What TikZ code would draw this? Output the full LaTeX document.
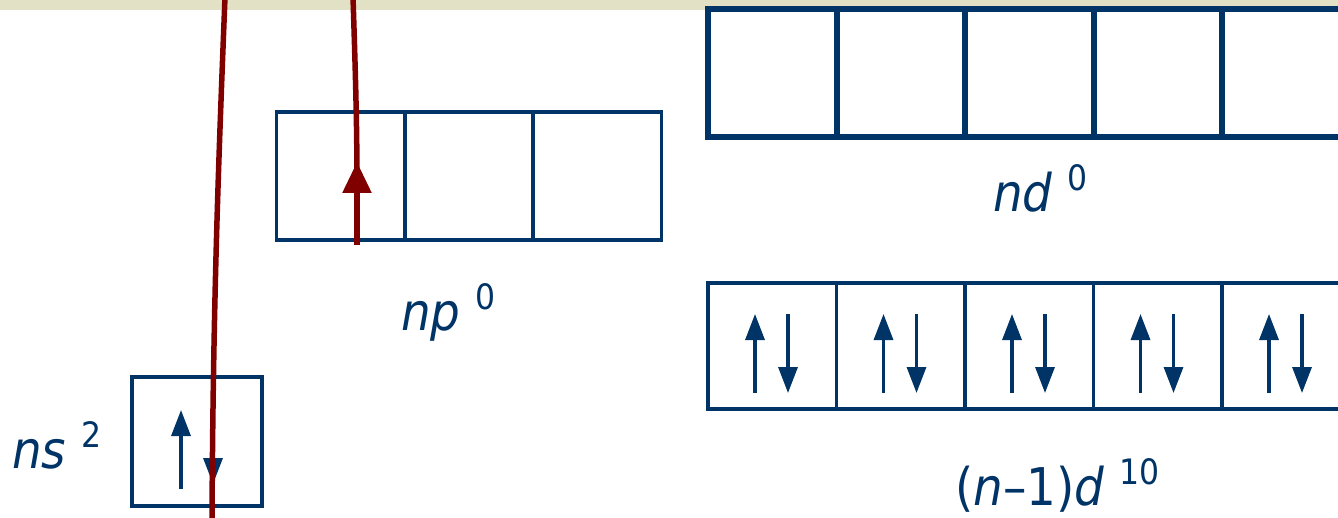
\documentclass[tikz,border=0pt]{standalone}
\usepackage{fontspec}
\usetikzlibrary{arrows.meta}
\IfFontExistsTF{DejaVu Sans Condensed}
  {\newfontfamily\lblfont{DejaVu Sans Condensed}}
  {\newfontfamily\lblfont[FakeStretch=0.88]{DejaVu Sans}}
\definecolor{orbblue}{RGB}{0,51,102}
\definecolor{pathred}{RGB}{128,0,0}
\definecolor{bandbeige}{RGB}{226,224,197}
\tikzset{
  cellthin/.style={draw=orbblue, line width=3.3bp, minimum width=128.5bp, minimum height=128bp, inner sep=0pt, outer sep=0pt},
  cellthick/.style={draw=orbblue, line width=6bp, minimum width=128.5bp, minimum height=128bp, inner sep=0pt, outer sep=0pt},
  spin/.style={draw=orbblue, line width=3.3bp, -{Triangle[length=26bp,width=19bp]}},
  redline/.style={draw=pathred, line width=5.5bp},
  redarrow/.style={draw=pathred, line width=5.5bp, -{Triangle[length=31bp,width=28bp]}},
  lbl/.style={text=orbblue, anchor=base west, inner sep=0pt, font=\lblfont\fontsize{52bp}{60bp}\selectfont},
}
\newcommand{\supnum}[1]{\raisebox{21bp}{\fontsize{35bp}{40bp}\selectfont\upshape #1}}
\begin{document}
\begin{tikzpicture}[x=1bp,y=-1bp]
\useasboundingbox (0,0) rectangle (1338,518);
\clip (0,0) rectangle (1338,518);
% top band
\fill[bandbeige] (0,0) rectangle (1338,10);
% nd orbitals (empty)
\foreach \i/\x in {1/772.25,2/900.75,3/1029.25,4/1157.75,5/1286.25}
  \node[cellthick] (nd\i) at (\x,73.5) {};
% (n-1)d orbitals (full)
\foreach \i/\x in {1/772.25,2/900.75,3/1029.25,4/1157.75,5/1286.25}{
  \node[cellthin, minimum height=126bp] (dd\i) at (\x,346) {};
  \draw[spin] (\x-17.25,393) -- (\x-17.25,314);
  \draw[spin] (\x+15.75,314) -- (\x+15.75,393);
}
% np orbitals
\foreach \i/\x in {1/341,2/469,3/597}
  \node[cellthin] (np\i) at (\x,176) {};
% ns orbital
\node[cellthin, minimum width=130bp, minimum height=129bp] (ns1) at (197,441.5) {};
\draw[spin] (181,489) -- (181,410);
\draw[spin] (213,410) -- (213,484);
% labels
\node[lbl] (lns) at (12,468) {\itshape ns \supnum{2}};
\node[lbl] (lnp) at (401,330) {\itshape np \supnum{0}};
\node[lbl] (lnd) at (993,212) {\itshape nd \supnum{0}};
\node[lbl] (ldd) at (955,505) {(\textit{n}–1)\textit{d} \supnum{10}};
% red paths
\draw[redline] (225,-3) .. controls (219,150) and (213,300) .. (212,522);
\draw[redline] (353,-3) .. controls (355,60) and (357,120) .. (357,185);
\draw[redarrow] (357,245) -- (357,162);
\end{tikzpicture}
\end{document}
